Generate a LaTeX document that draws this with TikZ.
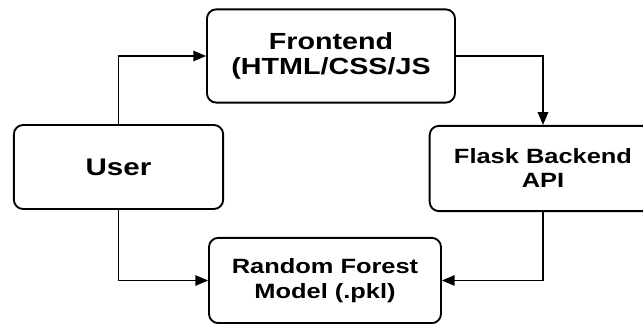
\documentclass[tikz,border=0pt]{standalone}
\usepackage{fontspec}
\setmainfont{Liberation Sans}[FakeStretch=1.23]
\usetikzlibrary{arrows}
\usetikzlibrary{shapes}

\begin{document}
\begin{tikzpicture}[x = 0.75pt, y = -0.75pt]
\tikzstyle{BoxStyle}=[shape = rectangle,
                      rounded corners = 7pt,
                      line width = 1.4pt,
                      align = center,
                      inner sep = 0pt,
                      font = \bfseries,
                      draw]
\tikzstyle{EdgeStyle}=[line width = 1.2pt, -triangle 45]
\useasboundingbox (0,0) rectangle (643,324);
\node[BoxStyle, minimum width = 186pt, minimum height = 70pt,
      font = \fontsize{17.5}{19}\bfseries] (front) at (331,56) {Frontend\\(HTML/CSS/JS};
\node[BoxStyle, minimum width = 157pt, minimum height = 63pt,
      font = \fontsize{18}{20}\bfseries] (user) at (118.5,167) {User};
\node[BoxStyle, minimum width = 170pt, minimum height = 64pt,
      font = \fontsize{15.5}{18}\bfseries] (flask) at (543,168.5) {Flask Backend\\API};
\node[BoxStyle, minimum width = 174pt, minimum height = 64pt,
      font = \fontsize{15.5}{19}\bfseries] (model) at (325,280.5) {Random Forest\\Model (.pkl)};
\draw[EdgeStyle] (user.north) |- (front.west);
\draw[EdgeStyle] (front.east) -| (flask.north);
\draw[EdgeStyle] (user.south) |- (model.west);
\draw[EdgeStyle] (flask.south) |- (model.east);
\end{tikzpicture}
\end{document}
